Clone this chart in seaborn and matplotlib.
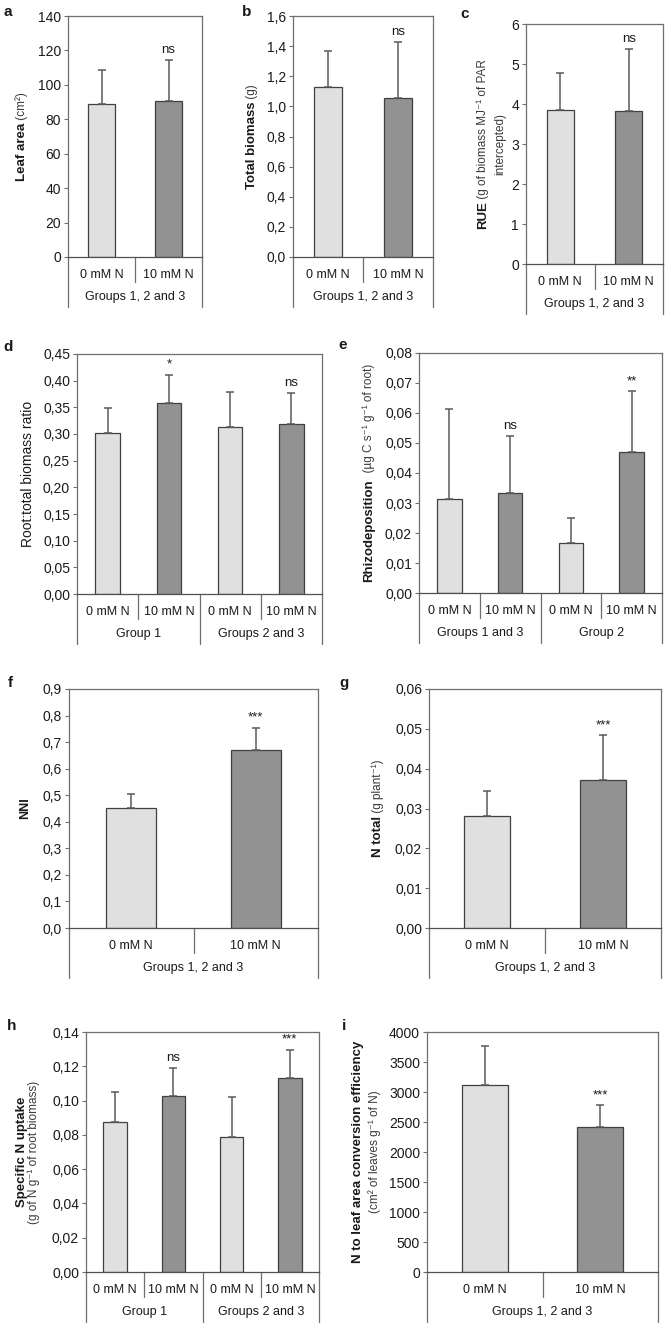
import numpy as np
import pandas as pd
import matplotlib
matplotlib.use("Agg")
import matplotlib.pyplot as plt
import matplotlib.transforms as mtrans
from matplotlib.ticker import FuncFormatter
import seaborn as sns

# values (mean bars, upper SD whiskers)
treatments = ["0 mM N", "10 mM N"]

leaf_area = [88.6, 90.4]
leaf_area_sd = [19.8, 23.8]
total_biomass = [1.13, 1.055]
total_biomass_sd = [0.235, 0.37]
rue = [3.85, 3.83]
rue_sd = [0.93, 1.55]
root_ratio = [0.301, 0.358, 0.314, 0.319]
root_ratio_sd = [0.048, 0.053, 0.064, 0.057]
rhizo = [0.0312, 0.0334, 0.0167, 0.0471]
rhizo_sd = [0.030, 0.019, 0.0082, 0.0201]
nni = [0.452, 0.672]
nni_sd = [0.052, 0.081]
n_total = [0.028, 0.0371]
n_total_sd = [0.0063, 0.0113]
spec_uptake = [0.0875, 0.1027, 0.0788, 0.1132]
spec_uptake_sd = [0.0173, 0.0163, 0.0231, 0.0165]
conv_eff = [3122, 2422]
conv_eff_sd = [639, 356]

sig_a = [None, "ns"]
sig_b = [None, "ns"]
sig_c = [None, "ns"]
sig_d = [None, "*", None, "ns"]
sig_e = [None, "ns", None, "**"]
sig_f = [None, "***"]
sig_g = [None, "***"]
sig_h = [None, "ns", None, "***"]
sig_i = [None, "***"]

groups_all = ["Groups 1, 2 and 3"]
groups_d = ["Group 1", "Groups 2 and 3"]
groups_e = ["Groups 1 and 3", "Group 2"]
groups_h = ["Group 1", "Groups 2 and 3"]

sns.set_style("white")
plt.rcParams["font.family"] = ["Liberation Sans", "DejaVu Sans"]

PALETTE = {"0 mM N": "#e0e0e0", "10 mM N": "#929292"}
EDGE = "#404040"
ERR = "#5a5a5a"
FRAME = "#6e6e6e"
TXT = "#1a1a1a"

W, H = 668, 1327
fig = plt.figure(figsize=(W / 100, H / 100), dpi=100)


def new_axes(box):
    l, t, r, b = box
    return fig.add_axes([l / W, 1 - b / H, (r - l) / W, (b - t) / H])


def panel(box, means, sds, sig, groups, ymax, nticks, dec):
    ax = new_axes(box)
    hpx = box[3] - box[1]
    n = len(means)
    slots = ["s%d" % i for i in range(n)]
    treat = (treatments * 2)[:n]
    df = pd.DataFrame({"slot": slots, "value": means, "treat": treat})
    sns.barplot(data=df, x="slot", y="value", hue="treat", order=slots,
                hue_order=treatments, palette=PALETTE, dodge=False, width=0.4,
                edgecolor=EDGE, linewidth=0.9, errorbar=None, legend=False, ax=ax)
    ax.errorbar(range(n), means, yerr=[np.zeros(n), sds], fmt="none",
                ecolor=ERR, elinewidth=1.1, capsize=3, capthick=1.1, zorder=3)
    for i, s in enumerate(sig):
        if s:
            ax.annotate(s, (i, means[i] + sds[i]), xytext=(0, 3),
                        textcoords="offset points", ha="center", va="bottom",
                        fontsize=9.5, color=TXT)
    ax.set_xlim(-0.5, n - 0.5)
    ax.set_ylim(0, ymax)
    ax.set_yticks(np.linspace(0, ymax, nticks))
    ax.yaxis.set_major_formatter(
        FuncFormatter(lambda v, p: ("%.*f" % (dec, v)).replace(".", ",")))
    ax.set_xticks([])
    ax.set_xlabel("")
    ax.set_ylabel("")
    ax.tick_params(axis="y", left=True, length=3, width=0.8, color=FRAME,
                   labelsize=10, labelcolor=TXT, pad=2)
    for sp in ax.spines.values():
        sp.set_color(FRAME)
        sp.set_linewidth(0.9)
    ax.spines["bottom"].set_color("#505050")

    trans = mtrans.blended_transform_factory(ax.transData, ax.transAxes)
    for x in (-0.5, n - 0.5):
        ax.plot([x, x], [0, -50 / hpx], transform=trans, color=FRAME,
                lw=0.9, clip_on=False)
    per = n // len(groups)
    for k in range(1, n):
        depth = 50 if k % per == 0 else 25
        ax.plot([k - 0.5, k - 0.5], [0, -depth / hpx], transform=trans,
                color=FRAME, lw=0.9, clip_on=False)
    for i in range(n):
        ax.text(i, -18 / hpx, treat[i], transform=trans, ha="center",
                va="center", fontsize=9, color=TXT, clip_on=False)
    for g, lab in enumerate(groups):
        ax.text(per * (g + 0.5) - 0.5, -40 / hpx, lab, transform=trans,
                ha="center", va="center", fontsize=9, color=TXT, clip_on=False)
    return ax


label_jobs = []


def ylabel(box, x_px, parts, yc_px=None):
    # parts: list of (text, size, weight, color); laid end to end, rotated
    if yc_px is None:
        yc_px = (box[1] + box[3]) / 2
    texts = []
    for txt, size, weight, col in parts:
        t = fig.text(x_px / W, 1 - yc_px / H, txt, rotation=90, ha="center",
                     va="center", fontsize=size, fontweight=weight, color=col)
        texts.append(t)
    label_jobs.append((texts, x_px, yc_px))


def letter(x_px, y_px, s):
    fig.text(x_px / W, 1 - y_px / H, s, fontsize=11, fontweight="bold",
             ha="center", va="center", color=TXT)


UNIT = "#3a3a3a"
US = 8.5

box_a = (68, 16, 202, 257)
box_b = (293, 16, 433, 257)
box_c = (526, 24, 663, 264)
box_d = (77, 354, 322, 594)
box_e = (419, 353, 662, 593)
box_f = (69, 689, 318, 928)
box_g = (429, 689, 661, 928)
box_h = (86, 1032, 319, 1272)
box_i = (427, 1032, 658, 1272)

panel(box_a, leaf_area, leaf_area_sd, sig_a, groups_all, 140, 8, 0)
panel(box_b, total_biomass, total_biomass_sd, sig_b, groups_all, 1.6, 9, 1)
panel(box_c, rue, rue_sd, sig_c, groups_all, 6, 7, 0)
panel(box_d, root_ratio, root_ratio_sd, sig_d, groups_d, 0.45, 10, 2)
panel(box_e, rhizo, rhizo_sd, sig_e, groups_e, 0.08, 9, 2)
panel(box_f, nni, nni_sd, sig_f, groups_all, 0.9, 10, 1)
panel(box_g, n_total, n_total_sd, sig_g, groups_all, 0.06, 7, 2)
panel(box_h, spec_uptake, spec_uptake_sd, sig_h, groups_h, 0.14, 8, 2)
panel(box_i, conv_eff, conv_eff_sd, sig_i, groups_all, 4000, 9, 0)

ylabel(box_a, 22, [("Leaf area", 9.5, "bold", TXT), (" (cm\u00b2)", US, "normal", UNIT)])
ylabel(box_b, 252, [("Total biomass", 9.5, "bold", TXT), (" (g)", US, "normal", UNIT)])
ylabel(box_c, 483, [("RUE", 9.5, "bold", TXT),
                    (" (g of biomass MJ\u207b\u00b9 of PAR", US, "normal", UNIT)])
ylabel(box_c, 500, [("intercepted)", US, "normal", UNIT)])
ylabel(box_d, 28, [("Root:total biomass ratio", 10, "normal", TXT)])
ylabel(box_e, 369, [("Rhizodeposition", 9.5, "bold", TXT),
                    ("  (\u00b5g C s\u207b\u00b9 g\u207b\u00b9 of root)", US, "normal", UNIT)])
ylabel(box_f, 25, [("NNI", 9, "bold", TXT)])
ylabel(box_g, 378, [("N total", 9.5, "bold", TXT), (" (g plant\u207b\u00b9)", US, "normal", UNIT)])
ylabel(box_h, 22, [("Specific N uptake", 9.5, "bold", TXT)])
ylabel(box_h, 34, [("(g of N g\u207b\u00b9 of root biomass)", US, "normal", UNIT)])
ylabel(box_i, 358, [("N to leaf area conversion efficiency", 9.5, "bold", TXT)])
ylabel(box_i, 375, [("(cm\u00b2 of leaves g\u207b\u00b9 of N)", US, "normal", UNIT)])

letter(8, 12, "a")
letter(247, 12, "b")
letter(465, 14, "c")
letter(8, 347, "d")
letter(343, 345, "e")
letter(10, 683, "f")
letter(344, 683, "g")
letter(12, 1026, "h")
letter(344, 1026, "i")

# stack multi-part rotated labels so the whole label is centred on its axes
fig.canvas.draw()
rend = fig.canvas.get_renderer()
for texts, x_px, yc_px in label_jobs:
    hs = [t.get_window_extent(rend).height for t in texts]
    y = (H - yc_px) - sum(hs) / 2
    for t, h in zip(texts, hs):
        t.set_position((x_px / W, (y + h / 2) / H))
        y += h

fig.savefig("out.png", dpi=100)
